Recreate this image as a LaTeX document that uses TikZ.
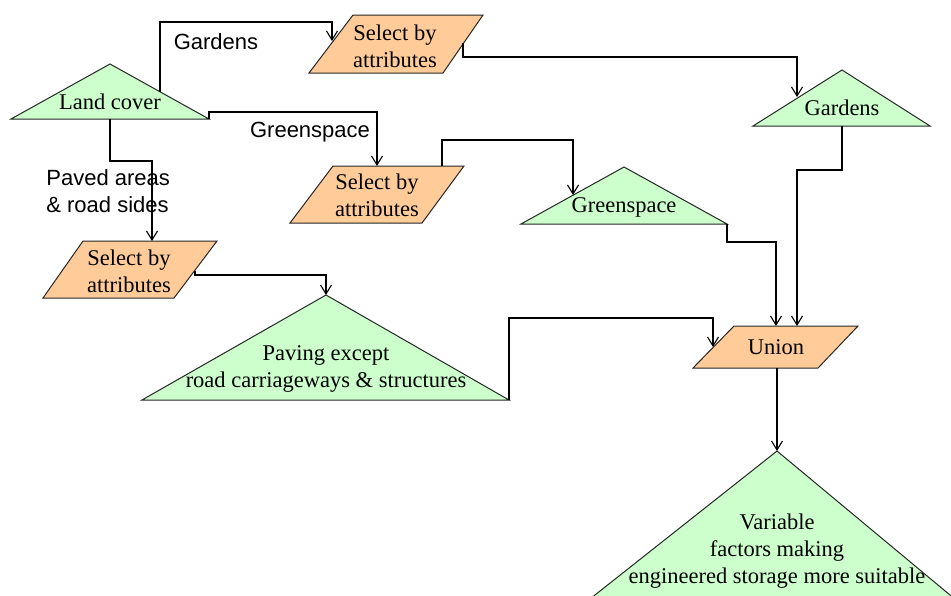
\documentclass[tikz,border=0pt]{standalone}
\usepackage{fontspec}
\setmainfont{Liberation Serif}
\newfontfamily\labelfont{Liberation Sans}
\usetikzlibrary{arrows.meta}
\definecolor{layergreen}{HTML}{CCFFCC}
\definecolor{toolorange}{HTML}{FFCC99}
\begin{document}
\begin{tikzpicture}[x=0.5pt,y=-0.5pt,
  layer/.style={draw=black!85,line width=0.5pt,fill=layergreen,line join=miter},
  tool/.style={draw=black!85,line width=0.5pt,fill=toolorange},
  txt/.style={inner sep=0pt,align=center,font=\fontsize{11.25pt}{13.5pt}\selectfont},
  lbl/.style={inner sep=0pt,align=left,font=\labelfont\fontsize{11pt}{13.5pt}\selectfont},
  flow/.style={draw=black,line width=0.55pt,-{Straight Barb[length=4.5pt,width=5.5pt]}}]
\useasboundingbox (0,0) rectangle (951,595);
\clip (0,0) rectangle (951,595);

% ---- layers (triangles) ----
\path[layer] (110,64) -- (209,119) -- (11,119) -- cycle;
\node[txt,anchor=base] (landcover) at (110,109) {Land cover};

\path[layer] (842,70) -- (930,126) -- (753,126) -- cycle;
\node[txt,anchor=base] (gardens) at (842,115) {Gardens};

\path[layer] (624,167) -- (727,224) -- (521,224) -- cycle;
\node[txt,anchor=base] (greenspace) at (624,212) {Greenspace};

\path[layer] (326,295) -- (509,400) -- (142,400) -- cycle;
\node[txt] (paving) at (326,369) {Paving except\\road carriageways \& structures};

\path[layer] (777,451) -- (968,610) -- (576,610) -- cycle;
\node[txt] (variable) at (777,551) {Variable\\factors making\\engineered storage more suitable};

% ---- tools (parallelograms) ----
\path[tool] (353,15) -- (483,15) -- (443,73) -- (309,73) -- cycle;
\node[txt] (selgd) at (395,46) {Select by\\attributes};

\path[tool] (333,166) -- (464,166) -- (422,223) -- (290,223) -- cycle;
\node[txt] (selgs) at (377,195) {Select by\\attributes};

\path[tool] (83,241) -- (217,241) -- (174,298) -- (43,298) -- cycle;
\node[txt] (selpv) at (129,271) {Select by\\attributes};

\path[tool] (734,326) -- (858,326) -- (818,368) -- (693,368) -- cycle;
\node[txt,anchor=base] (union) at (776,354) {Union};

% ---- connection points ----
\coordinate (lc-gd) at (160,92);
\coordinate (lc-gs) at (209,119);
\coordinate (lc-pv) at (110,119);
\coordinate (selgd-in) at (332,41);
\coordinate (selgd-out) at (463,43);
\coordinate (selgs-in) at (377,166);
\coordinate (selgs-out) at (442,166);
\coordinate (selpv-in) at (152,241);
\coordinate (selpv-out) at (195,271);
\coordinate (gd-in) at (797,97);
\coordinate (gd-out) at (842,126);
\coordinate (gs-in) at (573,195);
\coordinate (gs-out) at (727,224);
\coordinate (pv-in) at (326,295);
\coordinate (pv-out) at (509,400);
\coordinate (un-in1) at (713,347);
\coordinate (un-in2) at (776,326);
\coordinate (un-in3) at (797,326);
\coordinate (un-out) at (777,368);
\coordinate (var-in) at (777,451);

% ---- connectors ----
\draw[flow] (lc-gd) -- ++(0,-70) -| (selgd-in);
\draw[flow] (lc-gs) -- ++(0,-7) -| (selgs-in);
\draw[flow] (lc-pv) -- ++(0,42) -| (selpv-in);
\draw[flow] (selgd-out) -- ++(0,14) -| (gd-in);
\draw[flow] (selgs-out) -- ++(0,-26) -| (gs-in);
\draw[flow] (selpv-out) -- ++(0,4) -| (pv-in);
\draw[flow] (pv-out) -- ++(0,-82) -| (un-in1);
\draw[flow] (gs-out) -- ++(0,18) -| (un-in2);
\draw[flow] (gd-out) -- ++(0,44) -| (un-in3);
\draw[flow] (un-out) -- (var-in);

% ---- connector labels ----
\node[lbl,anchor=base] (lbl-gd) at (216,49) {Gardens};
\node[lbl,anchor=base] (lbl-gs) at (310,137) {Greenspace};
\node[lbl,anchor=west] (lbl-pv) at (46,191) {Paved areas\\\& road sides};
\end{tikzpicture}
\end{document}
